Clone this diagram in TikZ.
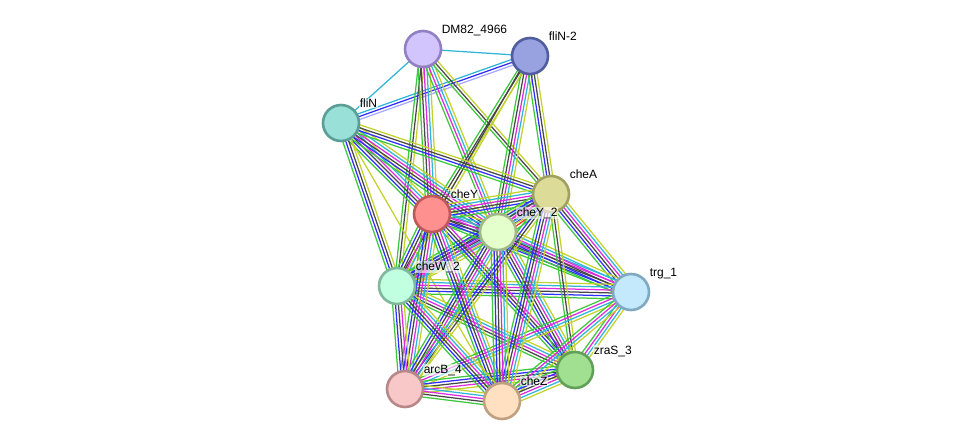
\documentclass[tikz,border=0pt]{standalone}
\usepackage{fontspec}
\setmainfont{Liberation Sans}
\usepackage{xcolor}
\usepackage{tikz}
\usetikzlibrary{calc}
\pgfdeclarelayer{background}
\pgfsetlayers{background,main}

\definecolor{sgreen}{HTML}{3CC83C}
\definecolor{sred}{HTML}{FF2A2A}
\definecolor{sblue}{HTML}{2E2EFF}
\definecolor{sblack}{HTML}{474747}
\definecolor{smag}{HTML}{DE2ADE}
\definecolor{scyan}{HTML}{30B4D8}
\definecolor{syel}{HTML}{C2D22C}
\definecolor{shom}{HTML}{A8A8FF}

\tikzset{
  strand/.style={line width=1.25pt},
  prot/.style={circle, minimum size=36pt, inner sep=0pt, line width=2.6pt},
  plabel/.style={anchor=base west, font=\fontsize{12}{14}\selectfont,
    fill=white, fill opacity=0.6, text opacity=1, inner sep=0.6pt}
}

% one bundle of evidence lines between two proteins
\newcommand\evidence[3]{%
  \gdef\nstr{0}%
  \foreach \c in {#3}{\pgfmathtruncatemacro\tmp{\nstr+1}\global\let\nstr\tmp}%
  \foreach \c [count=\i] in {#3}{%
    \pgfmathsetmacro\off{(\i-(\nstr+1)/2)*2.9}%
    \draw[\c, strand] ($(#1)!\off pt!90:(#2)$) -- ($(#2)!\off pt!-90:(#1)$);
  }%
}

\begin{document}
\begin{tikzpicture}[x=1pt, y=-1pt]
\useasboundingbox (0,0) rectangle (976,447);

% proteins
\node[prot, fill={rgb,255:red,210;green,196;blue,252}, draw={rgb,255:red,146;green,128;blue,196}] (dm) at (423,49) {};
\node[prot, fill={rgb,255:red,152;green,162;blue,224}, draw={rgb,255:red,80;green,94;blue,160}] (flin2) at (530,56) {};
\node[prot, fill={rgb,255:red,152;green,224;blue,216}, draw={rgb,255:red,90;green,158;blue,150}] (flin) at (341,123) {};
\node[prot, fill={rgb,255:red,220;green,220;blue,152}, draw={rgb,255:red,160;green,160;blue,96}] (chea) at (551,194) {};
\node[prot, fill={rgb,255:red,255;green,144;blue,144}, draw={rgb,255:red,192;green,88;blue,88}] (chey) at (432,214) {};
\node[prot, fill={rgb,255:red,228;green,255;blue,204}, draw={rgb,255:red,160;green,184;blue,136}] (chey2) at (498,232) {};
\node[prot, fill={rgb,255:red,192;green,255;blue,224}, draw={rgb,255:red,128;green,184;blue,156}] (chew2) at (397,286) {};
\node[prot, fill={rgb,255:red,196;green,232;blue,252}, draw={rgb,255:red,128;green,168;blue,192}] (trg) at (631,292) {};
\node[prot, fill={rgb,255:red,160;green,224;blue,144}, draw={rgb,255:red,96;green,160;blue,88}] (zras) at (575,370) {};
\node[prot, fill={rgb,255:red,248;green,200;blue,200}, draw={rgb,255:red,184;green,136;blue,136}] (arcb) at (405,389) {};
\node[prot, fill={rgb,255:red,255;green,224;blue,192}, draw={rgb,255:red,192;green,160;blue,128}] (chez) at (502,401) {};

% labels
\node[plabel] (ldm) at (441,33) {DM82\_4966};
\node[plabel] (lflin2) at (548,40) {fliN-2};
\node[plabel] (lflin) at (359,107) {fliN};
\node[plabel] (lchea) at (569,178) {cheA};
\node[plabel] (lchey) at (450,198) {cheY};
\node[plabel] (lchey2) at (516,216) {cheY\_2};
\node[plabel] (lchew2) at (415,270) {cheW\_2};
\node[plabel] (ltrg) at (649,276) {trg\_1};
\node[plabel] (lzras) at (593,354) {zraS\_3};
\node[plabel] (larcb) at (423,373) {arcB\_4};
\node[plabel] (lchez) at (520,385) {cheZ};

\begin{pgfonlayer}{background}
\evidence{dm}{flin2}{scyan}
\evidence{dm}{flin}{scyan}
\evidence{flin}{flin2}{shom,sblue,scyan}
\evidence{dm}{chew2}{sgreen,sblack,syel}
\evidence{dm}{chey}{sgreen,sblack,smag,scyan,syel}
\evidence{dm}{chey2}{sgreen,smag,scyan,syel}
\evidence{dm}{chea}{sgreen,sblack,syel}
\evidence{flin2}{chey}{sgreen,sblack,syel}
\evidence{flin2}{chey2}{sgreen,sblack,smag,scyan,syel}
\evidence{flin2}{chea}{sgreen,sblue,sblack,syel}
\evidence{flin2}{chew2}{sblack,syel}
\evidence{flin}{chey}{sgreen,sblue,sblack,smag,scyan,syel}
\evidence{flin}{chey2}{sgreen,sblue,sblack,smag,scyan,syel}
\evidence{flin}{chea}{sgreen,sblue,sblack,syel}
\evidence{flin}{chew2}{sgreen,sblue,sblack,syel}
\evidence{flin}{chez}{syel}
\evidence{chey}{chey2}{sgreen,sblue,sblack,smag,scyan,syel}
\evidence{chey}{chea}{sgreen,sblue,sblack,smag,scyan,syel}
\evidence{chey2}{chea}{sgreen,sred,sblue,sblack,smag,scyan,syel}
\evidence{chey}{chew2}{sgreen,sblue,sblack,smag,scyan,syel}
\evidence{chey2}{chew2}{sgreen,sblue,sblack,smag,scyan,syel}
\evidence{chea}{chew2}{sgreen,sblue,sblack,smag,scyan,syel}
\evidence{chea}{trg}{sgreen,sblue,sblack,smag,scyan,syel}
\evidence{chey}{trg}{sgreen,sblue,sblack,smag,scyan}
\evidence{chey2}{trg}{sgreen,sblue,sblack,smag,scyan,syel}
\evidence{chew2}{trg}{sgreen,sblue,sblack,smag,scyan,syel}
\evidence{chea}{zras}{sgreen,sblack,syel}
\evidence{chey}{zras}{sgreen,sblue,sblack,smag}
\evidence{chey2}{zras}{sgreen,sblue,sblack,smag,scyan,syel}
\evidence{chew2}{zras}{sgreen,sblack,smag,scyan,syel}
\evidence{trg}{zras}{sgreen,smag,scyan,syel}
\evidence{chea}{arcb}{sgreen,sblue,sblack,syel}
\evidence{chey}{arcb}{sgreen,sblue,sblack,smag,scyan,syel}
\evidence{chey2}{arcb}{sgreen,sblue,sblack,smag,scyan,syel}
\evidence{chew2}{arcb}{sgreen,sblue,sblack,smag,syel}
\evidence{trg}{arcb}{sgreen,smag,scyan,syel}
\evidence{zras}{arcb}{sgreen,sblue,sblack,smag,syel}
\evidence{chea}{chez}{sgreen,sblue,sblack,smag,scyan,syel}
\evidence{chey}{chez}{sgreen,sblue,sblack,smag,scyan,syel}
\evidence{chey2}{chez}{sgreen,sblue,sblack,smag,scyan,syel}
\evidence{chew2}{chez}{sgreen,sblue,sblack,smag,scyan,syel}
\evidence{trg}{chez}{sgreen,smag,scyan,syel}
\evidence{zras}{chez}{sgreen,sblue,sblack,smag,scyan,syel}
\evidence{arcb}{chez}{sgreen,sblack,smag,scyan,syel}
\end{pgfonlayer}
\end{tikzpicture}
\end{document}
